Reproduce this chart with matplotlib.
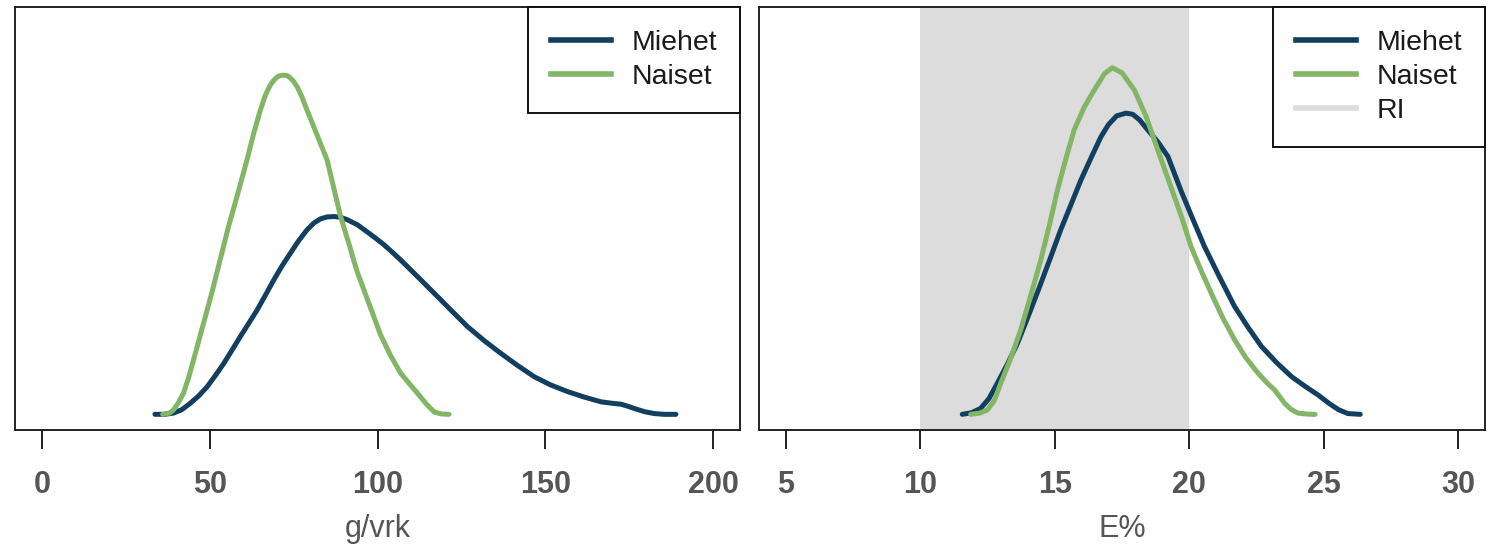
import matplotlib
matplotlib.use("Agg")
import matplotlib.pyplot as plt
from matplotlib.lines import Line2D

plt.rcParams['font.family'] = ['Liberation Sans', 'DejaVu Sans']

# ---- data: density curves (y in % per unit) ----
# left panel: g/vrk
miehet_g_x = [33.7, 36.5, 39.2, 41.7, 44.2, 46.7, 49.2, 51.7, 54.2, 56.6, 59.1, 61.6, 64.1, 66.6,
              69.1, 71.5, 74.0, 76.5, 79.0, 81.0, 83.0, 85.0, 87.0, 89.0, 91.0, 94.0, 96.9, 99.4,
              101.9, 104.4, 106.9, 111.9, 116.9, 121.9, 126.8, 131.8, 136.7, 141.7, 146.7, 151.6,
              156.6, 161.6, 166.6, 170.0, 172.5, 174.5, 176.5, 179.5, 182.5, 185.5, 188.9]
miehet_g_y = [0, 0, 0.010, 0.038, 0.090, 0.150, 0.224, 0.317, 0.416, 0.522, 0.634, 0.742, 0.851,
              0.973, 1.098, 1.210, 1.315, 1.418, 1.507, 1.562, 1.597, 1.613, 1.616, 1.610, 1.590,
              1.549, 1.491, 1.440, 1.386, 1.325, 1.261, 1.126, 0.989, 0.851, 0.717, 0.602, 0.499,
              0.400, 0.307, 0.240, 0.186, 0.141, 0.102, 0.090, 0.083, 0.067, 0.048, 0.022, 0.006, 0, 0]
naiset_g_x = [36.0, 38.0, 39.2, 40.7, 42.2, 43.7, 45.2, 47.9, 50.6, 53.1, 55.6, 58.4, 61.1, 63.1,
              65.1, 66.6, 68.0, 69.1, 70.2, 71.1, 72.0, 73.0, 73.9, 75.0, 76.2, 77.6, 79.0, 82.0,
              85.0, 87.0, 89.0, 91.5, 93.9, 97.4, 100.9, 103.9, 106.9, 109.5, 111.9, 114.5, 116.9,
              119.0, 121.3]
naiset_g_y = [0, 0.010, 0.035, 0.096, 0.173, 0.298, 0.445, 0.717, 0.989, 1.261, 1.533, 1.805, 2.077,
              2.294, 2.486, 2.608, 2.688, 2.730, 2.758, 2.768, 2.771, 2.768, 2.752, 2.720, 2.669,
              2.586, 2.486, 2.282, 2.077, 1.846, 1.616, 1.392, 1.168, 0.909, 0.650, 0.480, 0.336,
              0.250, 0.173, 0.086, 0.019, 0.003, 0]

# right panel: E%
miehet_e_x = [11.56, 11.9, 12.24, 12.55, 12.86, 13.23, 13.61, 14.05, 14.48, 14.85, 15.22, 15.6,
              15.97, 16.35, 16.72, 17.0, 17.3, 17.65, 17.9, 18.15, 18.46, 18.85, 19.21, 19.70,
              20.13, 20.57, 21.13, 21.69, 22.19, 22.69, 23.25, 23.81, 24.3, 24.80, 25.2, 25.55,
              25.9, 26.36]
miehet_e_y = [0, 0.08, 0.30, 0.80, 1.58, 2.54, 3.62, 5.14, 6.68, 8.04, 9.42, 10.70, 11.96, 13.10,
              14.18, 14.80, 15.24, 15.38, 15.32, 15.04, 14.52, 13.88, 13.16, 11.40, 9.98, 8.56, 7.00,
              5.50, 4.44, 3.46, 2.64, 1.92, 1.44, 0.98, 0.56, 0.24, 0.04, 0]
naiset_e_x = [11.87, 12.2, 12.49, 12.75, 12.99, 13.36, 13.73, 14.1, 14.48, 14.8, 15.10, 15.41,
              15.72, 16.1, 16.47, 16.85, 17.14, 17.5, 17.96, 18.4, 18.83, 19.27, 19.70, 20.07,
              20.45, 20.82, 21.25, 21.69, 22.1, 22.56, 22.9, 23.18, 23.55, 23.8, 24.05, 24.4, 24.68]
naiset_e_y = [0, 0.06, 0.22, 0.70, 1.58, 2.86, 4.30, 6.04, 7.88, 9.66, 11.46, 13.04, 14.52, 15.70,
              16.56, 17.40, 17.70, 17.44, 16.56, 15.20, 13.50, 11.80, 10.14, 8.56, 7.32, 6.18, 4.92,
              3.80, 2.90, 2.10, 1.60, 1.24, 0.56, 0.24, 0.06, 0.01, 0]

ri_range = (10, 20)
labels = ["Miehet", "Naiset", "RI"]

BLUE = "#123f60"
GREEN = "#82b565"
GREY = "#dcdcdc"
TXT = "#555555"


def style_axis(ax, xlim, xticks, ytop, xlabel):
    ax.set_xlim(xlim)
    ax.set_ylim(-0.04 * ytop, 1.04 * ytop)
    ax.set_xticks(xticks)
    ax.set_yticks([])
    for s in ax.spines.values():
        s.set_linewidth(1.4); s.set_color("#222222")
    ax.tick_params(axis="x", direction="out", length=14, width=1.4, color="#222222",
                   pad=15, labelsize=22, labelcolor=TXT)
    for t in ax.get_xticklabels():
        t.set_fontweight("bold")
    ax.set_xlabel(xlabel, fontsize=22, color=TXT, labelpad=10)


def curve(ax, x, y, c, lab=None):
    ax.plot(x, y, color=c, lw=3.6, solid_capstyle="round", solid_joinstyle="round", label=lab)


fig = plt.figure(figsize=(14.93, 5.46), dpi=100)
ax1 = fig.add_axes([15 / 1493, 116 / 546, 725 / 1493, 423 / 546])
ax2 = fig.add_axes([759 / 1493, 116 / 546, 726 / 1493, 423 / 546])

# left
curve(ax1, miehet_g_x, miehet_g_y, BLUE)
curve(ax1, naiset_g_x, naiset_g_y, GREEN)
style_axis(ax1, (-8, 208), [0, 50, 100, 150, 200], 3.2, "g/vrk")

# right
ax2.axvspan(*ri_range, color=GREY, lw=0, zorder=0)
curve(ax2, miehet_e_x, miehet_e_y, BLUE)
curve(ax2, naiset_e_x, naiset_e_y, GREEN)
style_axis(ax2, (4, 31), [5, 10, 15, 20, 25, 30], 20, "E%")

leg_kw = dict(loc="upper right", borderaxespad=0, fontsize=20.5, fancybox=False, framealpha=1,
              edgecolor="#111111", handlelength=2.1, handletextpad=0.74, borderpad=0.8,
              labelspacing=0.28)
handles = [Line2D([], [], color=BLUE, lw=4),
           Line2D([], [], color=GREEN, lw=4),
           Line2D([], [], color=GREY, lw=4)]
lg1 = ax1.legend(handles[:2], labels[:2], **leg_kw)
lg2 = ax2.legend(handles, labels, **leg_kw)
for lg in (lg1, lg2):
    lg.get_frame().set_linewidth(1.4)
    for t in lg.get_texts():
        t.set_color("#1a1a1a")

fig.savefig("out.png", dpi=100)
